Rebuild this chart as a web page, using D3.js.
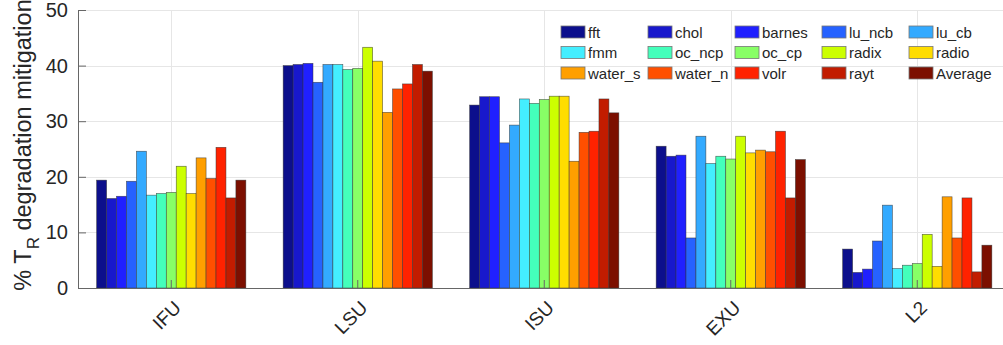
<!DOCTYPE html>
<html>
<head>
<meta charset="utf-8">
<script src="https://cdn.jsdelivr.net/npm/d3@7"></script>
<style>
  body { margin: 0; background: #fff; }
  svg { display: block; font-family: "Liberation Sans", Arial, sans-serif; }
</style>
</head>
<body>
<div id="chart"></div>
<script>
// categories (x groups)
var categories = ["IFU", "LSU", "ISU", "EXU", "L2"];

// series names, in bar order
var series = ["fft", "chol", "barnes", "lu_ncb", "lu_cb", "fmm", "oc_ncp", "oc_cp",
  "radix", "radio", "water_s", "water_n", "volr", "rayt", "Average"];

// bar colours (jet-like)
var colors = ["#0c0f8c", "#1818cc", "#2020ff", "#2662ff", "#33aaff", "#44eeff", "#44ffbb",
  "#88ff66", "#ccff00", "#ffdd00", "#ff9f00", "#ff4f00", "#ff2200", "#c21c00", "#7c0f00"];

// values per category, one per series
var valIFU = [19.4, 16.1, 16.5, 19.2, 24.6, 16.7, 17.0, 17.2, 21.9, 17.0, 23.4, 19.7, 25.3, 16.2, 19.4];
var valLSU = [40.0, 40.2, 40.4, 37.0, 40.2, 40.2, 39.3, 39.5, 43.3, 40.8, 31.6, 35.8, 36.7, 40.2, 39.0];
var valISU = [32.9, 34.4, 34.4, 26.1, 29.3, 34.0, 33.2, 33.9, 34.5, 34.5, 22.8, 28.0, 28.2, 34.0, 31.5];
var valEXU = [25.5, 23.7, 23.9, 9.0, 27.3, 22.4, 23.7, 23.2, 27.3, 24.3, 24.8, 24.5, 28.2, 16.2, 23.1];
var valL2  = [7.0, 2.8, 3.4, 8.45, 14.9, 3.5, 4.1, 4.4, 9.65, 3.9, 16.4, 9.0, 16.2, 2.9, 7.7];

var yTicks = [0, 10, 20, 30, 40, 50];

var allVals = [valIFU, valLSU, valISU, valEXU, valL2];
var data = categories.map(function(c, i) {
  return { cat: c, values: series.map(function(s, j) { return { key: s, value: allVals[i][j] }; }) };
});

// dimensions (plot runs a little past the right edge, like the reference)
var W = 1003, H = 345;
var m = { left: 78, top: 10, bottom: 288, right: 1010.5 };

var svg = d3.select("#chart").append("svg")
  .attr("width", W).attr("height", H);

// scales
var x0 = d3.scaleBand().domain(categories).range([m.left, m.right]).padding(0);
var bw = x0.bandwidth();
var x1 = d3.scaleBand().domain(series).range([0.1 * bw, 0.9 * bw]).padding(0);
var y = d3.scaleLinear().domain([0, 50]).range([m.bottom, m.top]);
var color = d3.scaleOrdinal().domain(series).range(colors);

// grid
var grid = svg.append("g");
grid.selectAll(".hg").data(yTicks).enter().append("line")
  .attr("x1", m.left).attr("x2", W)
  .attr("y1", function(d) { return Math.round(y(d)) + 0.5; })
  .attr("y2", function(d) { return Math.round(y(d)) + 0.5; })
  .attr("stroke", "#e6e6e6").attr("stroke-width", 1);
grid.selectAll(".vg").data(categories).enter().append("line")
  .attr("x1", function(d) { return Math.round(x0(d) + bw / 2) + 0.5; })
  .attr("x2", function(d) { return Math.round(x0(d) + bw / 2) + 0.5; })
  .attr("y1", m.top).attr("y2", m.bottom)
  .attr("stroke", "#e6e6e6").attr("stroke-width", 1);

// bars
var groups = svg.selectAll(".grp").data(data).enter().append("g")
  .attr("transform", function(d) { return "translate(" + x0(d.cat) + ",0)"; });
groups.selectAll("rect").data(function(d) { return d.values; }).enter().append("rect")
  .attr("x", function(d) { return x1(d.key); })
  .attr("width", x1.bandwidth())
  .attr("y", function(d) { return y(d.value); })
  .attr("height", function(d) { return y(0) - y(d.value); })
  .attr("fill", function(d) { return color(d.key); })
  .attr("stroke", "#333").attr("stroke-width", 0.6).attr("stroke-opacity", 0.8);

// y axis
var yAxis = svg.append("g")
  .attr("transform", "translate(" + m.left + ",0)")
  .call(d3.axisLeft(y).tickValues(yTicks).tickSize(-8).tickPadding(10));
yAxis.select(".domain").attr("stroke", "#666");
yAxis.selectAll(".tick line").attr("stroke", "#666");
yAxis.selectAll(".tick text").attr("fill", "#262626")
  .style("font-size", "20px");

// x axis
var xAxis = svg.append("g")
  .attr("transform", "translate(0," + m.bottom + ")")
  .call(d3.axisBottom(x0).tickSize(-8).tickPadding(0));
xAxis.select(".domain").attr("stroke", "#666").attr("d", "M" + m.left + ",0.5H" + W);
xAxis.selectAll(".tick line").attr("stroke", "#666");
xAxis.selectAll(".tick text")
  .attr("fill", "#262626")
  .style("font-size", "19px")
  .attr("text-anchor", "end")
  .attr("dy", 0)
  .attr("transform", "translate(11,21) rotate(-45)");

// y label
var yl = svg.append("text")
  .attr("transform", "translate(31,145) rotate(-90)")
  .attr("text-anchor", "middle")
  .attr("fill", "#262626")
  .style("font-size", "23.5px");
yl.append("tspan").text("% T");
yl.append("tspan").text("R").attr("dy", 8).style("font-size", "17px");
yl.append("tspan").text(" degradation mitigation").attr("dy", -8);

// legend
var legend = svg.append("g");
var items = legend.selectAll(".li").data(series).enter().append("g")
  .attr("transform", function(d, i) {
    return "translate(" + (561 + (i % 5) * 87) + "," + (26 + Math.floor(i / 5) * 20.5) + ")";
  });
items.append("rect")
  .attr("width", 24).attr("height", 12)
  .attr("fill", function(d) { return color(d); })
  .attr("stroke", "#777").attr("stroke-width", 0.8);
items.append("text")
  .attr("x", 27).attr("y", 11.5)
  .attr("fill", "#262626")
  .style("font-size", "15px")
  .text(function(d) { return d; });
</script>
</body>
</html>
